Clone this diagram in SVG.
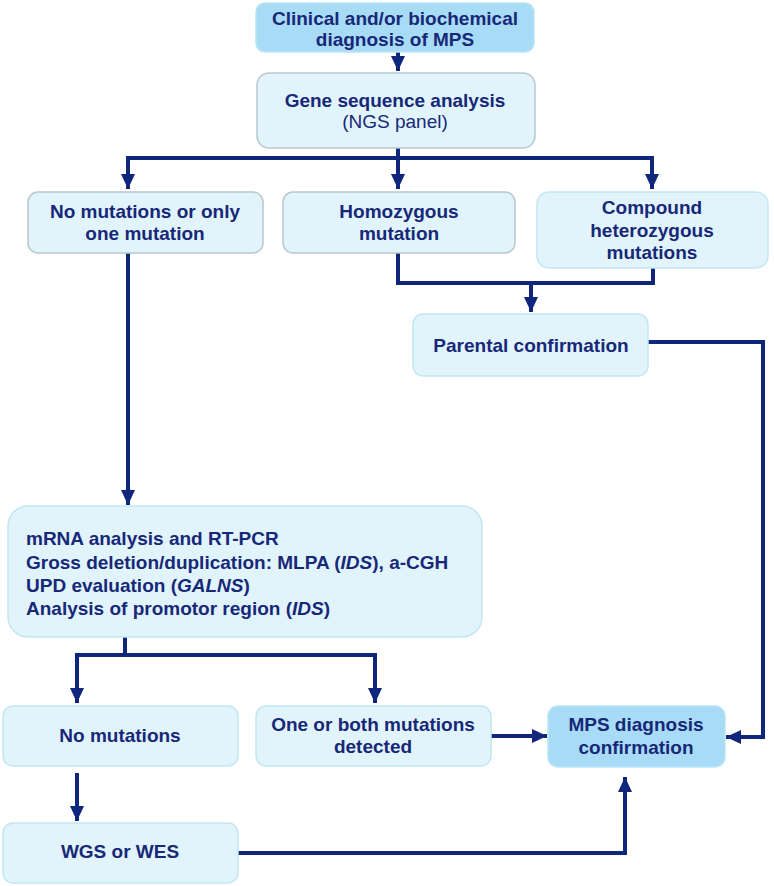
<svg xmlns="http://www.w3.org/2000/svg" width="774" height="886" viewBox="0 0 774 886">
<defs>
<marker id="ah" markerUnits="userSpaceOnUse" markerWidth="16" markerHeight="16" viewBox="0 0 16 16" refX="15" refY="8" orient="auto">
<path d="M0,1 L15,8 L0,15 Z" fill="#0f267d"/>
</marker>
</defs>
<style>
.box{fill:#e1f4fb;stroke:#c3e6f3;stroke-width:1.5}
.gbox{fill:#e1f4fb;stroke:#b8c8cd;stroke-width:1.5}
.dbox{fill:#a8dcf6;stroke:#b9e3f6;stroke-width:1.5}
text{font-family:"Liberation Sans",Arial,sans-serif;font-size:19px;font-weight:bold;fill:#172878;text-anchor:middle}
.n{font-weight:normal}
.l{text-anchor:start}
.c{fill:none;stroke:#0f267d;stroke-width:4}
</style>
<g id="connectors">
<path class="c" d="M398,52 V71" marker-end="url(#ah)"/>
<path class="c" d="M398,148 V189" marker-end="url(#ah)"/>
<path class="c" d="M398,158 H128 V189" marker-end="url(#ah)"/>
<path class="c" d="M398,158 H652 V189" marker-end="url(#ah)"/>
<path class="c" d="M398,253 V283 H653 V268"/>
<path class="c" d="M531,283 V312" marker-end="url(#ah)"/>
<path class="c" d="M648,342 H763 V737 H726" marker-end="url(#ah)"/>
<path class="c" d="M128,253 V505" marker-end="url(#ah)"/>
<path class="c" d="M125,637 V655"/>
<path class="c" d="M125,655 H77 V703" marker-end="url(#ah)"/>
<path class="c" d="M125,655 H375 V703" marker-end="url(#ah)"/>
<path class="c" d="M491,736 H547" marker-end="url(#ah)"/>
<path class="c" d="M77,773 V821" marker-end="url(#ah)"/>
<path class="c" d="M238,853 H625 V777" marker-end="url(#ah)"/>
</g>
<g id="n-clinical">
<rect class="dbox" x="256" y="3" width="278" height="49" rx="9"/>
<text x="395" y="25">Clinical and/or biochemical</text>
<text x="395" y="46">diagnosis of MPS</text>
</g>
<g id="n-gene">
<rect class="gbox" x="257" y="73" width="278" height="75" rx="12"/>
<text x="395" y="107">Gene sequence analysis</text>
<text class="n" x="395" y="128">(NGS panel)</text>
</g>
<g id="n-nomut1">
<rect class="gbox" x="28" y="192" width="235" height="61" rx="10"/>
<text x="145" y="218">No mutations or only</text>
<text x="145" y="240">one mutation</text>
</g>
<g id="n-homo">
<rect class="gbox" x="283" y="192" width="232" height="61" rx="10"/>
<text x="399" y="218">Homozygous</text>
<text x="399" y="240">mutation</text>
</g>
<g id="n-compound">
<rect class="box" x="537" y="192" width="231" height="76" rx="12"/>
<text x="652" y="214">Compound</text>
<text x="652" y="237">heterozygous</text>
<text x="652" y="259">mutations</text>
</g>
<g id="n-parental">
<rect class="box" x="413" y="314" width="235" height="62" rx="10"/>
<text x="531" y="352">Parental confirmation</text>
</g>
<g id="n-mrna">
<rect class="box" x="8" y="506" width="474" height="131" rx="20"/>
<text class="l" x="26" y="545">mRNA analysis and RT-PCR</text>
<text class="l" x="26" y="569">Gross deletion/duplication: MLPA (<tspan font-style="italic">IDS</tspan>), a-CGH</text>
<text class="l" x="26" y="592">UPD evaluation (<tspan font-style="italic">GALNS</tspan>)</text>
<text class="l" x="26" y="615">Analysis of promotor region (<tspan font-style="italic">IDS</tspan>)</text>
</g>
<g id="n-nomut2">
<rect class="box" x="3" y="706" width="235" height="60" rx="10"/>
<text x="120" y="742">No mutations</text>
</g>
<g id="n-oneboth">
<rect class="box" x="256" y="706" width="235" height="60" rx="10"/>
<text x="373" y="731">One or both mutations</text>
<text x="373" y="753">detected</text>
</g>
<g id="n-mps">
<rect class="dbox" x="548" y="706" width="177" height="61" rx="10"/>
<text x="636" y="731">MPS diagnosis</text>
<text x="636" y="754">confirmation</text>
</g>
<g id="n-wgs">
<rect class="box" x="3" y="823" width="235" height="60" rx="10"/>
<text x="120" y="858">WGS or WES</text>
</g>
</svg>
